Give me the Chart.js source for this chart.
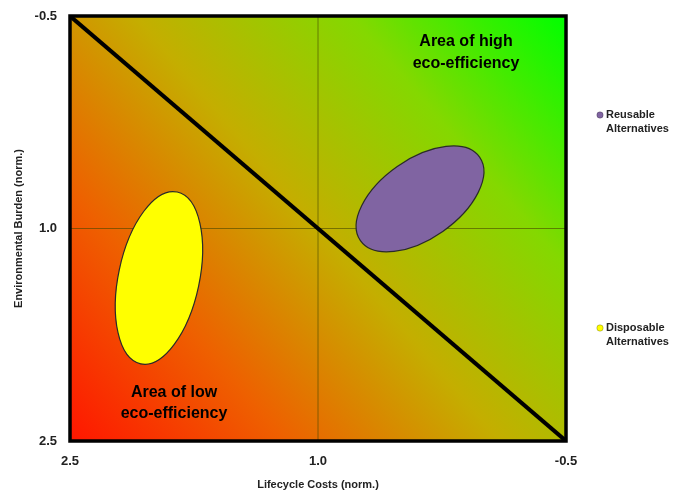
<!DOCTYPE html>
<html>
<head>
<meta charset="utf-8">
<script src="https://cdn.jsdelivr.net/npm/chart.js@4.4.1/dist/chart.umd.min.js"></script>
<style>
  html, body { margin: 0; padding: 0; background: #fff; }
  #wrap { width: 682px; height: 493px; position: relative; }
</style>
</head>
<body>
<div id="wrap"><canvas id="ecoChart" width="682" height="493"></canvas></div>
<script>
// axis ticks (both axes reversed)
const xTicks = [2.5, 1.0, -0.5];
const yTicks = [-0.5, 1.0, 2.5];

// diagonal break-even line
const lineX = [2.5, -0.5];
const lineY = [-0.5, 2.5];

// alternatives: centre, semi-axes (data units), tilt (deg)
const groups = ['Reusable Alternatives', 'Disposable Alternatives'];
const centreX = [0.383, 1.962];
const centreY = [0.791, 1.349];
const radiusX = [0.44, 0.245];
const radiusY = [0.28, 0.62];
const tilt = [-35, 12];
const groupColors = ['#8064a2', '#ffff00'];

// gradient background + ellipses + area notes + side legend
const ecoPlugin = {
    id: 'eco',
    beforeDatasetsDraw(chart) {
        const { ctx, chartArea: a, scales } = chart;
        ctx.save();
        const g = ctx.createLinearGradient(a.left, a.bottom, a.right, a.top);
        g.addColorStop(0, '#ff1600');
        g.addColorStop(0.25, '#ee6000');
        g.addColorStop(0.5, '#c4ae00');
        g.addColorStop(0.75, '#84d800');
        g.addColorStop(1, '#00ff00');
        ctx.fillStyle = g;
        ctx.fillRect(a.left, a.top, a.right - a.left, a.bottom - a.top);

        // grid lines at 1.0
        ctx.strokeStyle = 'rgba(70,70,0,0.6)';
        ctx.lineWidth = 1;
        const gx = scales.x.getPixelForValue(1.0);
        const gy = scales.y.getPixelForValue(1.0);
        ctx.beginPath();
        ctx.moveTo(gx, a.top); ctx.lineTo(gx, a.bottom);
        ctx.moveTo(a.left, gy); ctx.lineTo(a.right, gy);
        ctx.stroke();

        // ellipses
        groups.forEach((name, i) => {
            const cx = scales.x.getPixelForValue(centreX[i]);
            const cy = scales.y.getPixelForValue(centreY[i]);
            const rx = Math.abs(scales.x.getPixelForValue(centreX[i] + radiusX[i]) - cx);
            const ry = Math.abs(scales.y.getPixelForValue(centreY[i] + radiusY[i]) - cy);
            ctx.beginPath();
            ctx.ellipse(cx, cy, rx, ry, tilt[i] * Math.PI / 180, 0, Math.PI * 2);
            ctx.fillStyle = groupColors[i];
            ctx.fill();
            ctx.strokeStyle = '#2a2a2a';
            ctx.lineWidth = 1.2;
            ctx.stroke();
        });
        ctx.restore();
    },
    afterDraw(chart) {
        const { ctx, chartArea: a } = chart;
        ctx.save();
        // plot border
        ctx.strokeStyle = '#000';
        ctx.lineWidth = 3.5;
        ctx.strokeRect(a.left, a.top, a.right - a.left, a.bottom - a.top);

        ctx.fillStyle = '#000';
        ctx.font = 'bold 16px "Liberation Sans", Arial, sans-serif';
        ctx.textAlign = 'center';
        ctx.textBaseline = 'middle';
        ctx.fillText('Area of high', 466, 42);
        ctx.fillText('eco-efficiency', 466, 64);
        ctx.fillText('Area of low', 174, 393);
        ctx.fillText('eco-efficiency', 174, 414);

        // side legend
        ctx.font = 'bold 11px "Liberation Sans", Arial, sans-serif';
        ctx.textAlign = 'left';
        const legendY = [115, 328];
        groups.forEach((name, i) => {
            const parts = name.split(' ');
            ctx.beginPath();
            ctx.arc(600, legendY[i], 3.2, 0, Math.PI * 2);
            ctx.fillStyle = groupColors[i];
            ctx.fill();
            ctx.strokeStyle = 'rgba(0,0,0,0.4)';
            ctx.lineWidth = 0.6;
            ctx.stroke();
            ctx.fillStyle = '#222';
            ctx.fillText(parts[0], 606, legendY[i]);
            ctx.fillText(parts[1], 606, legendY[i] + 14);
        });
        ctx.restore();
    }
};

const ctx = document.getElementById('ecoChart').getContext('2d');
new Chart(ctx, {
    type: 'scatter',
    data: {
        datasets: [{
            label: 'break-even',
            data: lineX.map((x, i) => ({ x: x, y: lineY[i] })),
            showLine: true,
            borderColor: '#000',
            borderWidth: 4,
            pointRadius: 0
        }]
    },
    options: {
        responsive: false,
        animation: false,
        layout: { padding: { top: 16, right: 116, left: 0, bottom: 0 } },
        plugins: {
            legend: { display: false },
            tooltip: { enabled: false }
        },
        scales: {
            x: {
                reverse: true,
                min: -0.5, max: 2.5,
                afterBuildTicks: s => { s.ticks = xTicks.map(v => ({ value: v })); },
                afterFit: s => { s.height = 52; },
                grid: { display: false },
                border: { display: false },
                ticks: {
                    color: '#222',
                    font: { family: '"Liberation Sans", Arial', size: 13, weight: 'bold' },
                    padding: 5,
                    maxRotation: 0,
                    callback: v => v.toFixed(1)
                },
                title: {
                    display: true,
                    text: 'Lifecycle Costs (norm.)',
                    color: '#222',
                    font: { family: '"Liberation Sans", Arial', size: 11, weight: 'bold' },
                    padding: { top: 10, bottom: 1 }
                }
            },
            y: {
                reverse: true,
                min: -0.5, max: 2.5,
                afterBuildTicks: s => { s.ticks = yTicks.map(v => ({ value: v })); },
                afterFit: s => { s.width = 70; },
                grid: { display: false },
                border: { display: false },
                ticks: {
                    color: '#222',
                    font: { family: '"Liberation Sans", Arial', size: 13, weight: 'bold' },
                    padding: 5,
                    callback: v => v.toFixed(1)
                },
                title: {
                    display: true,
                    text: 'Environmental Burden (norm.)',
                    color: '#222',
                    font: { family: '"Liberation Sans", Arial', size: 11, weight: 'bold' },
                    padding: { top: 12, bottom: 4 }
                }
            }
        }
    },
    plugins: [ecoPlugin]
});
</script>
</body>
</html>
